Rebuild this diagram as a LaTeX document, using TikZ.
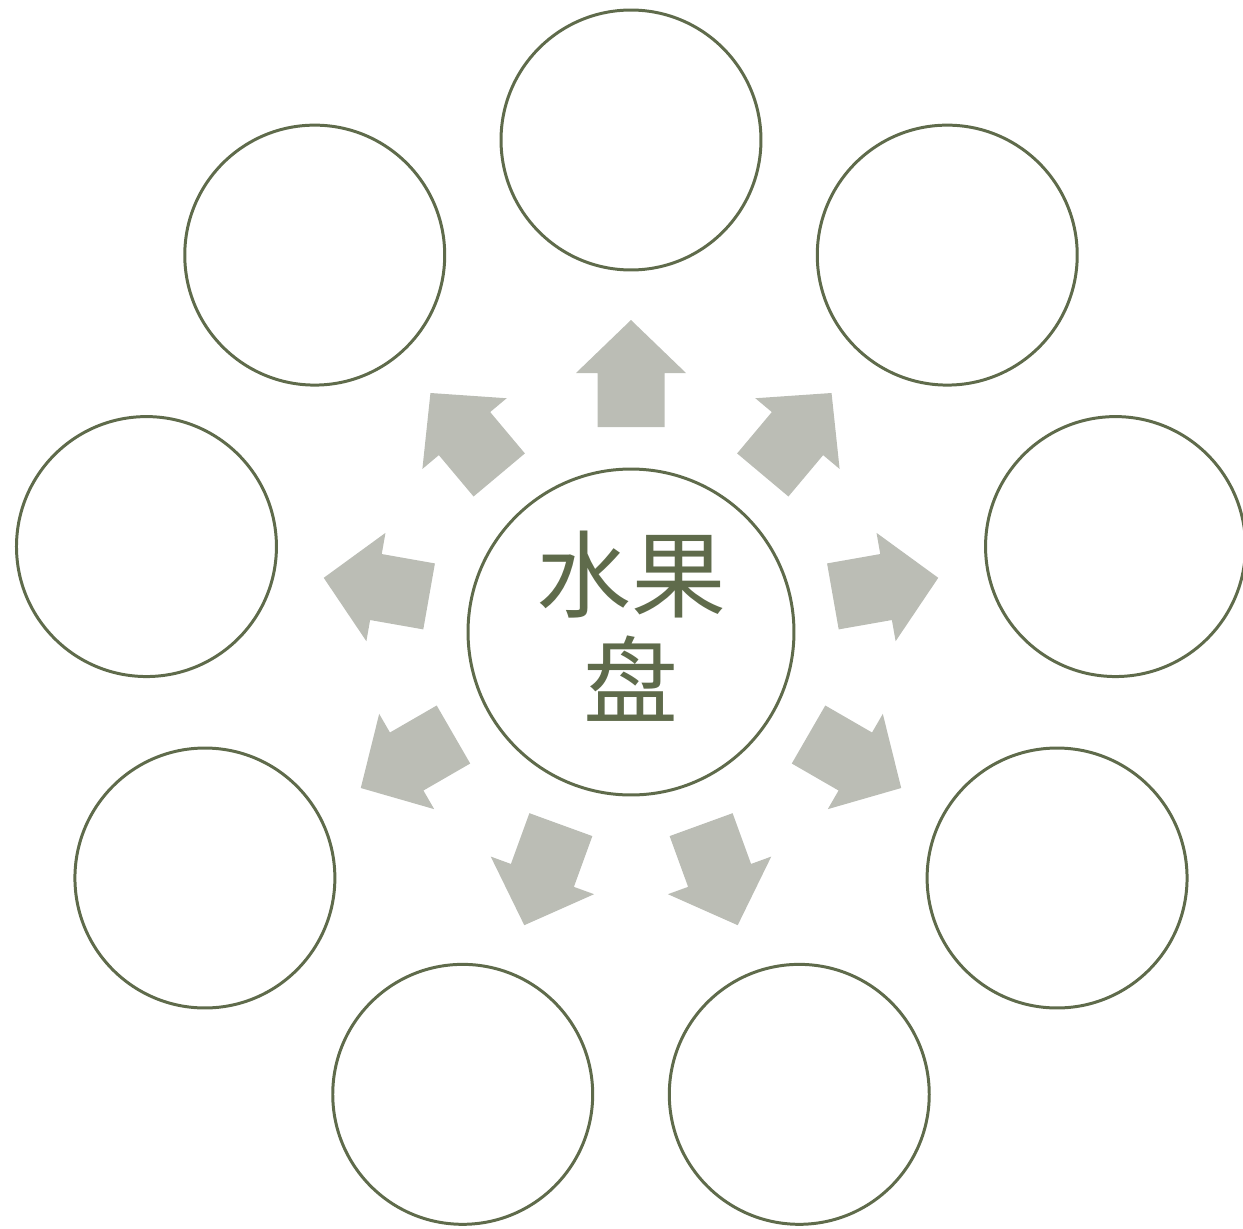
\documentclass[tikz,border=0pt]{standalone}
\usepackage{fontspec}
\newfontfamily\cjk{Noto Sans CJK SC}
\definecolor{plategreen}{HTML}{5F6B4B}
\definecolor{arrowgray}{HTML}{BBBDB5}
\tikzset{
  fruit/.style={circle,draw=plategreen,line width=1.7pt,minimum size=5.2cm,inner sep=0pt},
  plate/.style={circle,draw=plategreen,line width=1.7pt,minimum size=6.52cm,inner sep=0pt},
  outarrow/.style={fill=arrowgray}
}
\begin{document}
\begin{tikzpicture}[x=0.02cm,y=0.02cm]
            \useasboundingbox (-631,-596) rectangle (612,632);
            % centre
            \draw (0,0) node[plate] (P) {};
            \draw (0,0) node[text=plategreen,align=center,yshift=0.12cm,
             font=\cjk\fontsize{54}{60}\selectfont] (T) {水果\\盘};
            % fruits round the plate
            \draw (90:492) node[fruit] (F1) {};
            \draw (50:492) node[fruit] (F2) {};
            \draw (10:492) node[fruit] (F3) {};
            \draw (-30:492) node[fruit] (F4) {};
            \draw (-70:492) node[fruit] (F5) {};
            \draw (-110:492) node[fruit] (F6) {};
            \draw (-150:492) node[fruit] (F7) {};
            \draw (170:492) node[fruit] (F8) {};
            \draw (130:492) node[fruit] (F9) {};
            % block arrows
            \foreach \a in {90,50,10,-30,-70,-110,-150,170,130}
             \fill[outarrow,rotate=\a] (205,-33.5) -- (259,-33.5) -- (259,-55)
             -- (312,0) -- (259,55) -- (259,33.5) -- (205,33.5) -- cycle;
            \end{tikzpicture}
\end{document}
